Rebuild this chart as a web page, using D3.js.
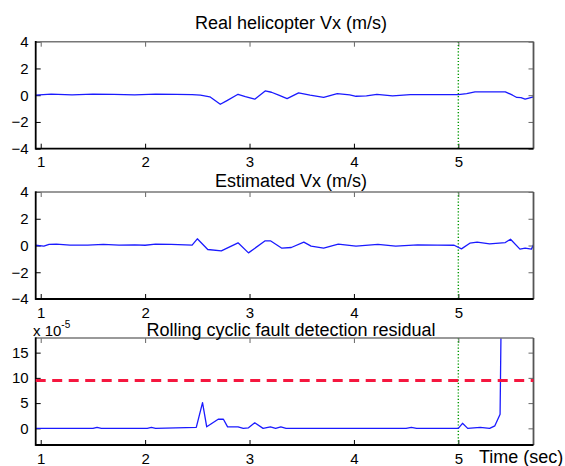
<!DOCTYPE html>
<html>
<head>
<meta charset="utf-8">
<title>Helicopter Vx and fault residual</title>
<script src="https://d3js.org/d3.v7.min.js"></script>
<style>
  body { margin: 0; background: #fff; }
  svg { display: block; font-family: "Liberation Sans", Arial, sans-serif; }
</style>
</head>
<body>
<svg id="chart" width="565" height="466"></svg>
<script>
// time axis (sec)
var xTicks = [1, 2, 3, 4, 5];
var faultTime = 5;

// Real helicopter Vx (m/s)
var realT = [0.95, 1.1, 1.3, 1.5, 1.7, 1.9, 2.1, 2.3, 2.45, 2.53, 2.62, 2.72, 2.78, 2.89, 2.96, 3.05, 3.15, 3.21, 3.28, 3.36, 3.47, 3.58, 3.71, 3.84, 3.96, 4.02, 4.12, 4.22, 4.37, 4.54, 4.75, 5.0, 5.08, 5.16, 5.3, 5.45, 5.52, 5.56, 5.6, 5.64, 5.72];
var realVx = [0.0, 0.08, 0.03, 0.08, 0.06, 0.03, 0.08, 0.06, 0.05, 0.0, -0.12, -0.68, -0.42, 0.07, -0.1, -0.3, 0.32, 0.22, 0.0, -0.25, 0.17, 0.0, -0.17, 0.12, 0.02, -0.08, -0.05, 0.06, -0.05, 0.05, 0.05, 0.05, 0.12, 0.25, 0.25, 0.25, 0.0, -0.17, -0.18, -0.3, -0.12];

// Estimated Vx (m/s)
var estT = [0.95, 1.03, 1.08, 1.15, 1.28, 1.45, 1.6, 1.75, 1.9, 2.0, 2.1, 2.25, 2.45, 2.5, 2.6, 2.73, 2.89, 2.99, 3.15, 3.2, 3.31, 3.40, 3.52, 3.59, 3.71, 3.85, 4.02, 4.23, 4.40, 4.61, 4.8, 4.96, 5.03, 5.11, 5.18, 5.30, 5.45, 5.50, 5.59, 5.64, 5.70, 5.72];
var estVx = [0.02, -0.05, 0.08, 0.1, 0.03, 0.03, 0.08, 0.03, 0.05, 0.02, 0.1, 0.08, 0.03, 0.5, -0.3, -0.4, 0.2, -0.55, 0.35, 0.35, -0.2, -0.15, 0.25, -0.05, -0.2, 0.1, -0.05, 0.08, -0.05, 0.05, 0.03, 0.02, -0.25, 0.17, 0.25, 0.12, 0.22, 0.47, -0.27, -0.2, -0.27, 0.05];

// Rolling cyclic fault detection residual (x 1e-5)
var resT = [0.95, 1.5, 1.54, 1.58, 2.02, 2.06, 2.1, 2.49, 2.55, 2.59, 2.70, 2.75, 2.79, 2.89, 2.94, 2.99, 3.05, 3.13, 3.20, 3.25, 3.30, 3.35, 4.5, 4.55, 4.6, 5.0, 5.04, 5.09, 5.21, 5.30, 5.35, 5.40, 5.42];
var residual = [0, 0, 0.2, 0, 0, 0.2, 0, 0.2, 5.1, 0.3, 1.8, 1.8, 0.3, 0.3, 0, 0.1, 1.1, 0, 0.3, 0, 0.3, 0, 0, 0.2, 0, 0, 1.0, 0, 0.2, 0, 0.5, 2.8, 40];
var threshold = 9.5;

var vxTicks = [-4, -2, 0, 2, 4];
var resTicks = [0, 5, 10, 15];

var svg = d3.select("#chart");
var left = 35.7, right = 533.5, panelH = 107;

var x = d3.scaleLinear().domain([0.952, 5.72]).range([left, right]);

function panel(top, yDomain, yTicks, title, titleY, t, v) {
    var y = d3.scaleLinear().domain(yDomain).range([top + panelH, top]);
    var g = svg.append("g");
    var id = "clip" + Math.round(top);

    g.append("clipPath").attr("id", id)
        .append("rect").attr("x", left).attr("y", top)
        .attr("width", right - left).attr("height", panelH);

    // axes with inward ticks
    var ax = g.append("g").attr("transform", "translate(" + left + ",0)")
        .call(d3.axisLeft(y).tickValues(yTicks).tickSize(-5).tickPadding(7).tickFormat(d3.format("d")));
    ax.selectAll("text").style("font-size", "15px").attr("fill", "#000");
    g.append("g").attr("transform", "translate(" + right + ",0)")
        .call(d3.axisRight(y).tickValues(yTicks).tickSize(-5).tickFormat(""))
        .selectAll("line").attr("stroke", "#666");
    var bx = g.append("g").attr("transform", "translate(0," + (top + panelH) + ")")
        .call(d3.axisBottom(x).tickValues(xTicks).tickSize(-5).tickPadding(8).tickFormat(d3.format("d")));
    bx.selectAll("text").style("font-size", "15px").attr("fill", "#000");
    g.append("g").attr("transform", "translate(0," + top + ")")
        .call(d3.axisTop(x).tickValues(xTicks).tickSize(-5).tickFormat(""))
        .selectAll("line").attr("stroke", "#666");
    g.selectAll(".domain").remove();

    // fault time marker
    g.append("line")
        .attr("x1", x(faultTime)).attr("x2", x(faultTime))
        .attr("y1", top).attr("y2", top + panelH)
        .attr("stroke", "#009900").attr("stroke-width", 1.4)
        .attr("stroke-dasharray", "1.2,2");

    // signal
    var line = d3.line().x(function (d) { return x(d[0]); }).y(function (d) { return y(d[1]); });
    g.append("path")
        .datum(t.map(function (d, i) { return [d, v[i]]; }))
        .attr("clip-path", "url(#" + id + ")")
        .attr("d", line)
        .attr("fill", "none").attr("stroke", "#1a1aff").attr("stroke-width", 1.3)
        .attr("stroke-linejoin", "round");

    // box: top/right grey, left/bottom black
    g.append("line").attr("x1", left).attr("x2", right).attr("y1", top).attr("y2", top)
        .attr("stroke", "#777").attr("stroke-width", 1.5);
    g.append("line").attr("x1", right).attr("x2", right).attr("y1", top).attr("y2", top + panelH)
        .attr("stroke", "#555").attr("stroke-width", 1.8);
    g.append("line").attr("x1", left).attr("x2", left).attr("y1", top - 0.7).attr("y2", top + panelH + 0.9)
        .attr("stroke", "#000").attr("stroke-width", 1.8);
    g.append("line").attr("x1", left).attr("x2", right).attr("y1", top + panelH).attr("y2", top + panelH)
        .attr("stroke", "#000").attr("stroke-width", 1.8);

    svg.append("text")
        .attr("x", 291).attr("y", titleY)
        .attr("text-anchor", "middle")
        .style("font-size", "18px")
        .text(title);

    return { g: g, y: y, id: id };
}

panel(41.7, [-4, 4], vxTicks, "Real helicopter Vx (m/s)", 28.5, realT, realVx);
panel(192, [-4, 4], vxTicks, "Estimated Vx (m/s)", 187, estT, estVx);
var p3 = panel(338, [-3.3, 17.9], resTicks, "Rolling cyclic fault detection residual", 335.5, resT, residual);

// threshold
p3.g.append("line")
    .attr("x1", left).attr("x2", right)
    .attr("y1", p3.y(threshold)).attr("y2", p3.y(threshold))
    .attr("stroke", "#f5173f").attr("stroke-width", 3)
    .attr("stroke-dasharray", "10,6.5");

// exponent label
var ex = svg.append("text").attr("x", 33).attr("y", 335.5).style("font-size", "15px");
ex.append("tspan").text("x 10");
ex.append("tspan").attr("dy", -8).style("font-size", "10px").text("-5");

svg.append("text")
    .attr("x", 479).attr("y", 463)
    .style("font-size", "18px")
    .text("Time (sec)");
</script>
</body>
</html>
